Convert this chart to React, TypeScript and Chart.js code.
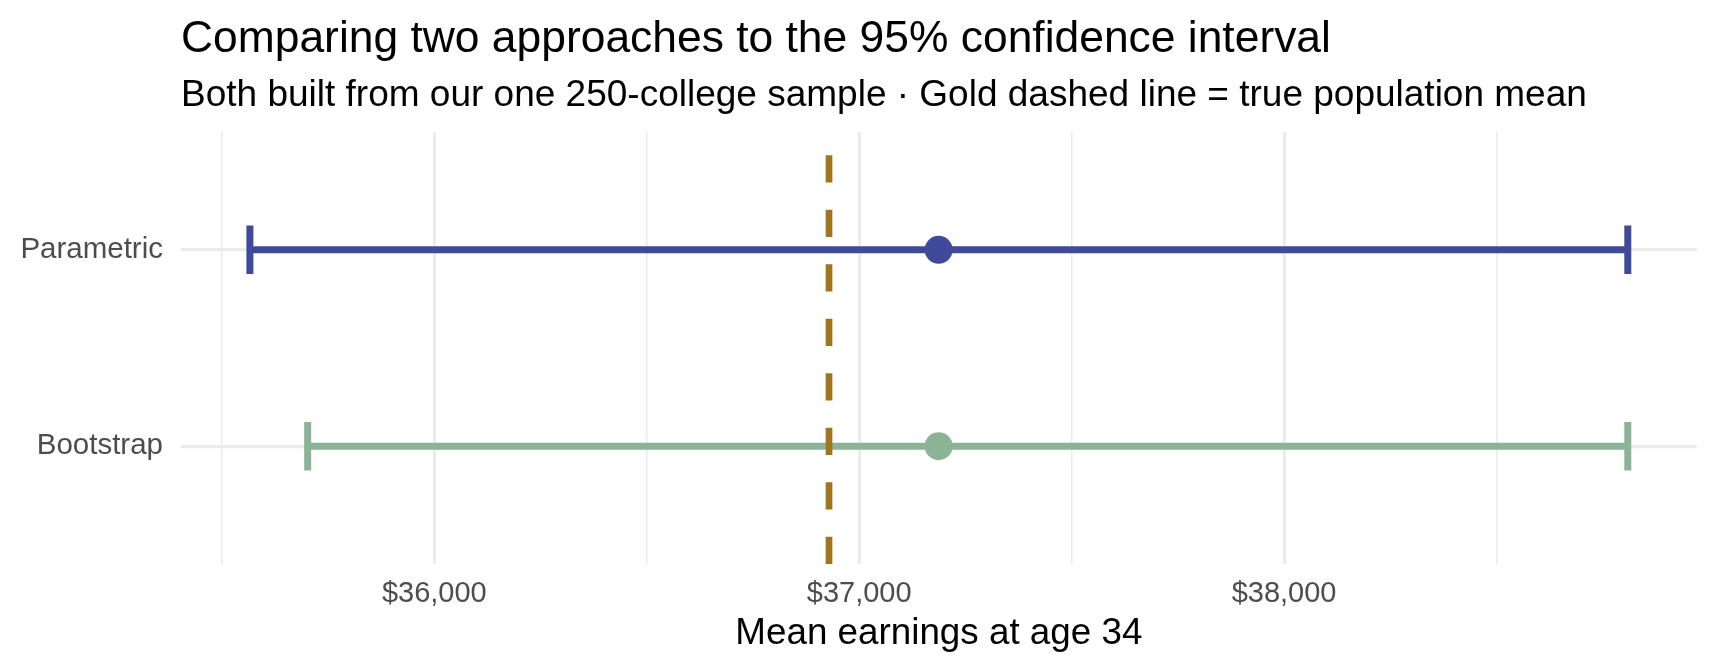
import { useEffect, useRef } from "react";
import Chart from "chart.js/auto";

// interval estimates
const methods = ["Parametric", "Bootstrap"];
const methodRows = [2, 1];
const estimates = [37187, 37187];
const lowerBounds = [35566, 35702];
const upperBounds = [38809, 38809];
const trueMean = 36929;
const xTickValues = [35500, 36000, 36500, 37000, 37500, 38000, 38500];

const methodColors = ["#3F4A9B", "#8BB497"];
const goldColor = "#A0751F";
const FONT = "'Liberation Sans', Arial, Helvetica, sans-serif";

const TITLE = "Comparing two approaches to the 95% confidence interval";
const SUBTITLE =
  "Both built from our one 250-college sample \u00b7 Gold dashed line = true population mean";

const titlePlugin = {
  id: "plotTitles",
  afterDraw(chart: Chart) {
    const { ctx, chartArea } = chart;
    ctx.save();
    ctx.fillStyle = "#000000";
    ctx.textAlign = "left";
    ctx.textBaseline = "alphabetic";
    ctx.font = `44.4px ${FONT}`;
    ctx.fillText(TITLE, chartArea.left, 51.5);
    ctx.font = `37px ${FONT}`;
    ctx.fillText(SUBTITLE, chartArea.left, 106);
    ctx.restore();
  },
};

export default function App() {
  const canvasRef = useRef<HTMLCanvasElement>(null);
  const chartRef = useRef<Chart | null>(null);

  useEffect(() => {
    document.body.style.margin = "0";
    if (!canvasRef.current) return;
    if (chartRef.current) chartRef.current.destroy();

    const ctx = canvasRef.current.getContext("2d");
    if (!ctx) return;

    // ggplot-style 5% expansion of the x range
    const lo = Math.min(...lowerBounds);
    const hi = Math.max(...upperBounds);
    const pad = (hi - lo) * 0.05;

    const errorBars = methods.map((m, i) => ({
      label: m + " interval",
      data: [
        { x: lowerBounds[i], y: methodRows[i] },
        { x: upperBounds[i], y: methodRows[i] },
      ],
      showLine: true,
      borderColor: methodColors[i],
      borderWidth: 7,
      pointStyle: "line" as const,
      pointRotation: 90,
      pointRadius: 24.3,
      pointBorderWidth: 7,
      pointBorderColor: methodColors[i],
      pointHoverRadius: 24.3,
    }));

    chartRef.current = new Chart(ctx, {
      type: "scatter",
      data: {
        datasets: [
          {
            label: "Estimate",
            data: methods.map((_, i) => ({ x: estimates[i], y: methodRows[i] })),
            pointRadius: 14,
            pointHoverRadius: 14,
            pointBorderWidth: 0,
            pointBackgroundColor: methodColors,
            pointBorderColor: methodColors,
          },
          {
            label: "True mean",
            data: [
              { x: trueMean, y: 0.4 },
              { x: trueMean, y: 2.6 },
            ],
            showLine: true,
            borderColor: goldColor,
            borderWidth: 6.7,
            borderDash: [27.2, 27.3],
            pointRadius: 0,
            pointHoverRadius: 0,
          },
          ...errorBars,
        ],
      },
      options: {
        responsive: true,
        maintainAspectRatio: false,
        animation: false,
        layout: { padding: { top: 132, right: 19, bottom: 0, left: 0 } },
        elements: { line: { tension: 0, borderCapStyle: "butt" } },
        plugins: {
          legend: { display: false },
          tooltip: { enabled: false },
        },
        scales: {
          x: {
            type: "linear",
            min: lo - pad,
            max: hi + pad,
            afterBuildTicks: (scale) => {
              scale.ticks = xTickValues.map((v) => ({ value: v }));
            },
            afterFit: (scale) => {
              scale.height = 108;
            },
            ticks: {
              autoSkip: false,
              maxRotation: 0,
              padding: 13,
              color: "#4D4D4D",
              font: { size: 29, family: FONT },
              callback: (v) =>
                Number(v) % 1000 === 0 ? "$" + Number(v).toLocaleString("en-US") : "",
            },
            grid: {
              color: "#EBEBEB",
              drawTicks: false,
              lineWidth: (c) => (c.tick && c.tick.value % 1000 === 0 ? 3 : 1.5),
            },
            border: { display: false },
            title: {
              display: true,
              text: "Mean earnings at age 34",
              color: "#000000",
              font: { size: 36.8, family: FONT },
              padding: { top: 0, bottom: 16.5 },
            },
          },
          y: {
            type: "linear",
            min: 0.4,
            max: 2.6,
            afterBuildTicks: (scale) => {
              scale.ticks = methodRows.map((v) => ({ value: v }));
            },
            afterFit: (scale) => {
              scale.width = 181;
            },
            ticks: {
              padding: 18,
              color: "#4D4D4D",
              font: { size: 29.5, family: FONT },
              callback: (v) => methods[methodRows.indexOf(Number(v))] ?? "",
            },
            grid: { color: "#EBEBEB", lineWidth: 3.3, drawTicks: false },
            border: { display: false },
          },
        },
      },
      plugins: [titlePlugin],
    });

    return () => {
      if (chartRef.current) {
        chartRef.current.destroy();
        chartRef.current = null;
      }
    };
  }, []);

  return (
    <div style={{ width: 1728, height: 672, position: "relative", background: "#fff" }}>
      <canvas ref={canvasRef} />
    </div>
  );
}
